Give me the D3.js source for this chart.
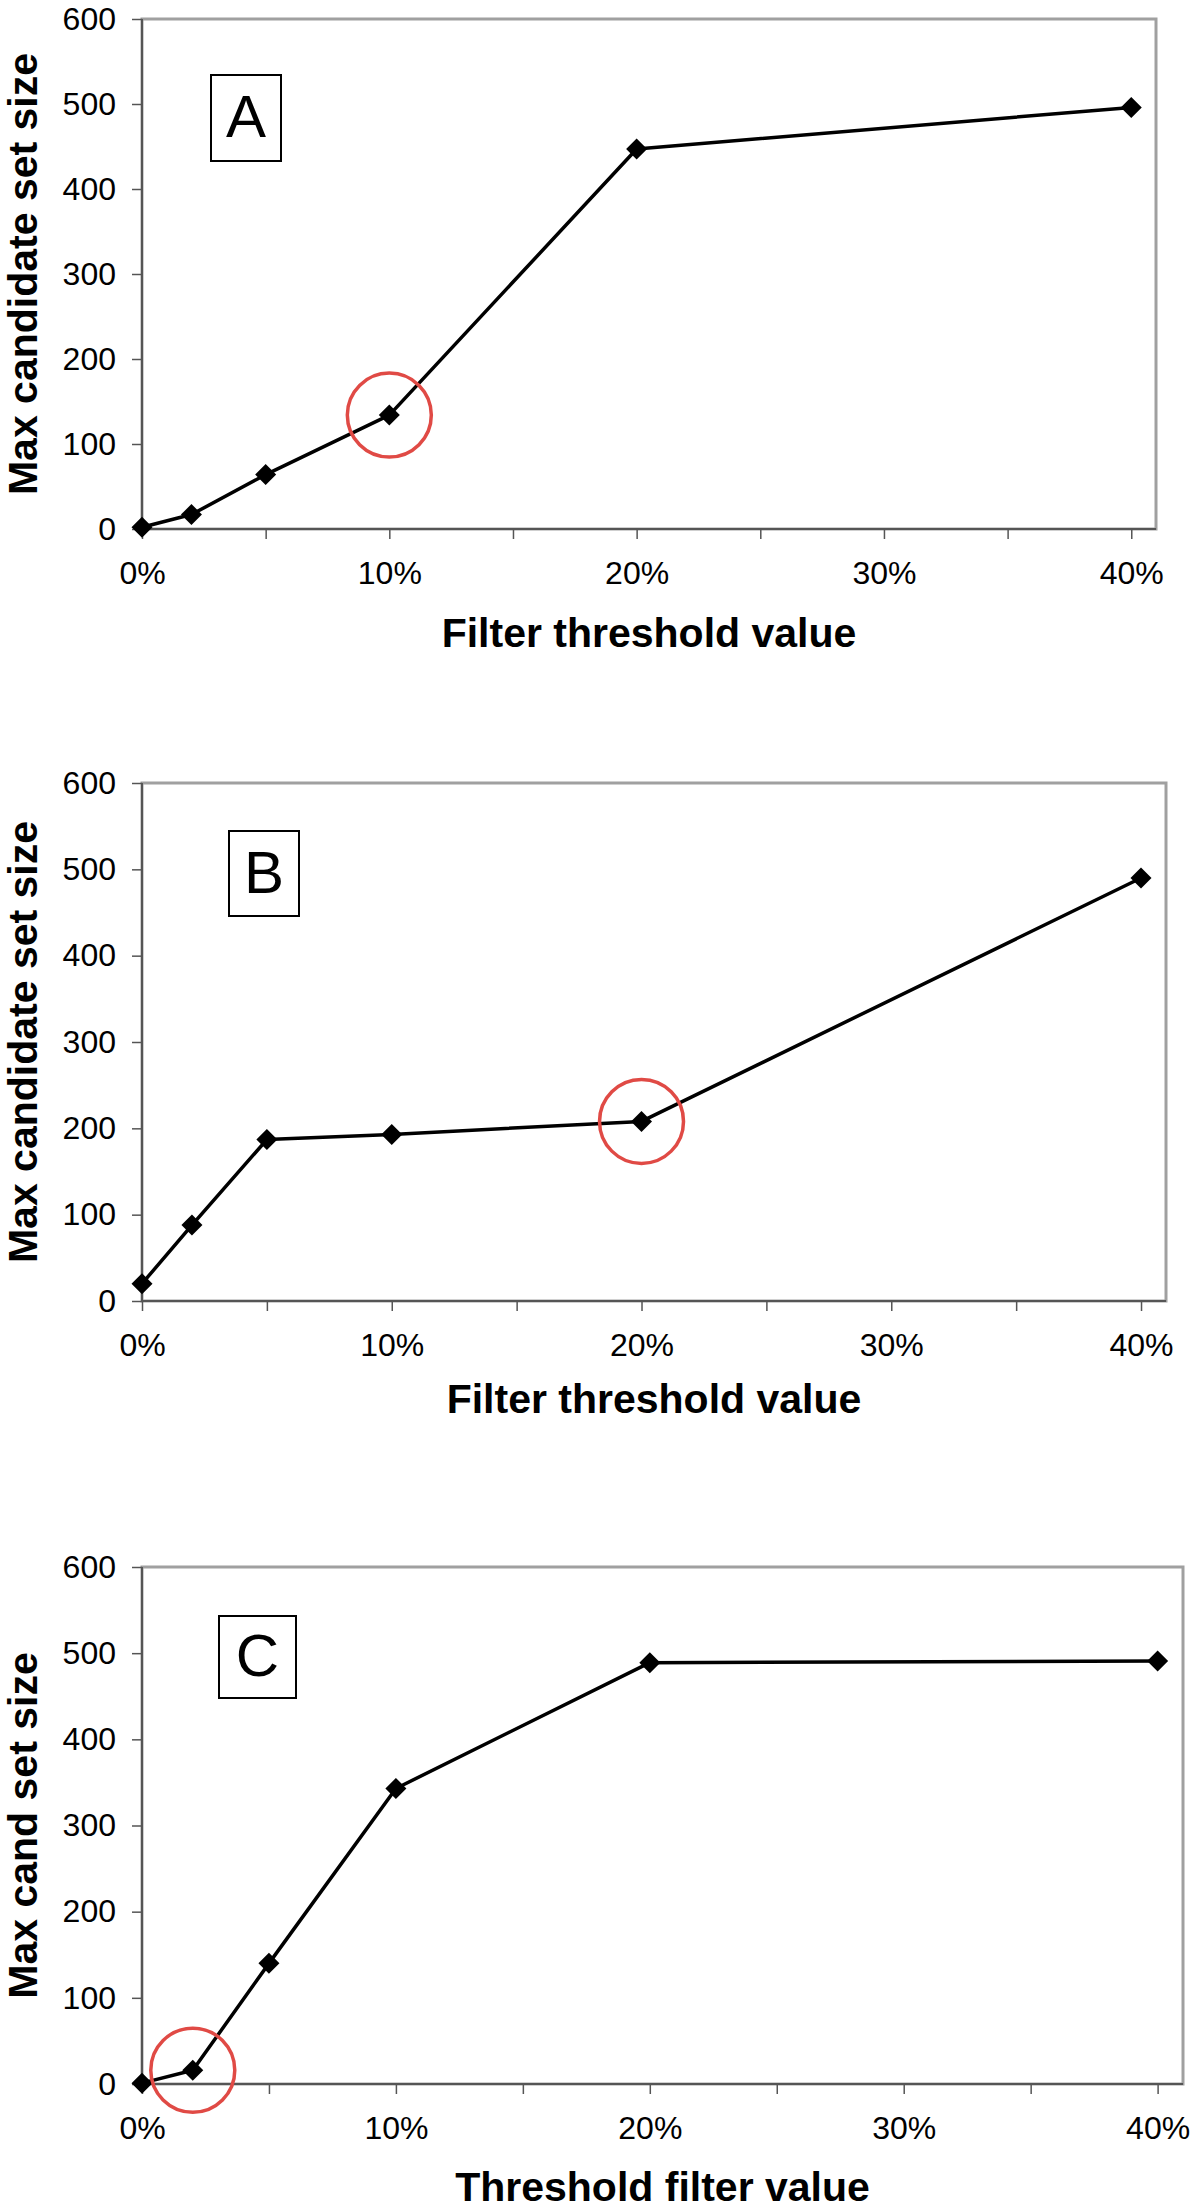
<!DOCTYPE html>
<html>
<head>
<meta charset="utf-8">
<script src="https://cdn.jsdelivr.net/npm/d3@7"></script>
<style>
  html, body { margin: 0; padding: 0; background: #ffffff; }
  svg { display: block; }
  text { font-family: "Liberation Sans", Arial, Helvetica, sans-serif; fill: #000; }
</style>
</head>
<body>
<svg id="chart" width="1200" height="2210"></svg>
<script>
// ---------------- data ----------------
const thresholds = [0, 0.02, 0.05, 0.10, 0.20, 0.40];
const sizesA = [2, 17, 64, 134, 447, 496];
const sizesB = [20, 88, 187, 193, 208, 490];
const sizesC = [1, 16, 140, 343, 489, 491];
const highlightThresholds = [0.10, 0.20, 0.02];
const panelLabels = ["A", "B", "C"];
const xTitles = ["Filter threshold value", "Filter threshold value", "Threshold filter value"];
const yTitles = ["Max candidate set size", "Max candidate set size", "Max cand set size"];
const yTickValues = [0, 100, 200, 300, 400, 500, 600];
const xTickValues = [0, 0.05, 0.10, 0.15, 0.20, 0.25, 0.30, 0.35, 0.40];
const xTickLabels = ["0%", "", "10%", "", "20%", "", "30%", "", "40%"];
const xDomain = [0, 0.41];
const yDomain = [0, 600];

// ---------------- layout ----------------
const layouts = [
  { left: 142, right: 1156, top: 19,   bottom: 529,  box: { x: 211, y: 75,   w: 70, h: 86 }, xTitleY: 647 },
  { left: 142, right: 1166, top: 783,  bottom: 1301, box: { x: 229, y: 831,  w: 70, h: 85 }, xTitleY: 1413 },
  { left: 142, right: 1183, top: 1567, bottom: 2084, box: { x: 219, y: 1616, w: 77, h: 82 }, xTitleY: 2201 }
];
const seriesList = [sizesA, sizesB, sizesC];

const svg = d3.select("#chart");

seriesList.forEach((values, i) => {
  const L = layouts[i];
  const x = d3.scaleLinear().domain(xDomain).range([L.left, L.right]);
  const y = d3.scaleLinear().domain(yDomain).range([L.bottom, L.top]);
  const g = svg.append("g");

  // plot area border
  g.append("rect")
    .attr("x", L.left).attr("y", L.top)
    .attr("width", L.right - L.left).attr("height", L.bottom - L.top)
    .attr("fill", "none").attr("stroke", "#a0a0a0").attr("stroke-width", 3);

  // axes
  const xAxis = d3.axisBottom(x)
    .tickValues(xTickValues)
    .tickFormat((d, k) => xTickLabels[k])
    .tickSize(10).tickPadding(22).tickSizeOuter(0);
  const yAxis = d3.axisLeft(y)
    .tickValues(yTickValues)
    .tickFormat(d3.format("d"))
    .tickSize(10).tickPadding(16).tickSizeOuter(0);

  const gx = g.append("g").attr("transform", `translate(0,${L.bottom})`).call(xAxis);
  const gy = g.append("g").attr("transform", `translate(${L.left},0)`).call(yAxis);
  [gx, gy].forEach(ax => {
    ax.select(".domain").attr("stroke", "#555").attr("stroke-width", 2);
    ax.selectAll(".tick line").attr("stroke", "#555").attr("stroke-width", 1.5);
    ax.selectAll(".tick text")
      .attr("font-size", 32)
      .attr("font-family", "'Liberation Sans', Arial, sans-serif")
      .attr("fill", "#000");
  });
  gx.select(".domain").attr("d", `M${L.left},0H${L.right}`);
  gy.select(".domain").attr("d", `M0,${L.bottom}V${L.top}`);

  // line
  const pts = thresholds.map((t, k) => ({ t: t, v: values[k] }));
  g.append("path")
    .datum(pts)
    .attr("fill", "none")
    .attr("stroke", "#000")
    .attr("stroke-width", 3.5)
    .attr("stroke-linejoin", "round")
    .attr("d", d3.line().x(d => x(d.t)).y(d => y(d.v)));

  // diamond markers
  const hs = 10.5;
  g.selectAll("path.marker")
    .data(pts)
    .join("path")
    .attr("class", "marker")
    .attr("fill", "#000")
    .attr("d", d => {
      const cx = x(d.t), cy = y(d.v);
      return `M${cx},${cy - hs}L${cx + hs},${cy}L${cx},${cy + hs}L${cx - hs},${cy}Z`;
    });

  // highlight circle
  const hk = thresholds.indexOf(highlightThresholds[i]);
  g.append("circle")
    .attr("cx", x(thresholds[hk]))
    .attr("cy", y(values[hk]))
    .attr("r", 42)
    .attr("fill", "none")
    .attr("stroke", "#e04a45")
    .attr("stroke-width", 3.5);

  // panel label box
  g.append("rect")
    .attr("x", L.box.x).attr("y", L.box.y)
    .attr("width", L.box.w).attr("height", L.box.h)
    .attr("fill", "#fff").attr("stroke", "#000").attr("stroke-width", 2);
  g.append("text")
    .attr("x", L.box.x + L.box.w / 2)
    .attr("y", L.box.y + L.box.h / 2 + 19)
    .attr("text-anchor", "middle")
    .attr("font-size", 60)
    .text(panelLabels[i]);

  // axis titles
  g.append("text")
    .attr("x", (L.left + L.right) / 2)
    .attr("y", L.xTitleY)
    .attr("text-anchor", "middle")
    .attr("font-size", 41)
    .attr("font-weight", "bold")
    .text(xTitles[i]);
  g.append("text")
    .attr("transform", `translate(37,${(L.top + L.bottom) / 2}) rotate(-90)`)
    .attr("text-anchor", "middle")
    .attr("font-size", 41)
    .attr("font-weight", "bold")
    .text(yTitles[i]);
});
</script>
</body>
</html>
